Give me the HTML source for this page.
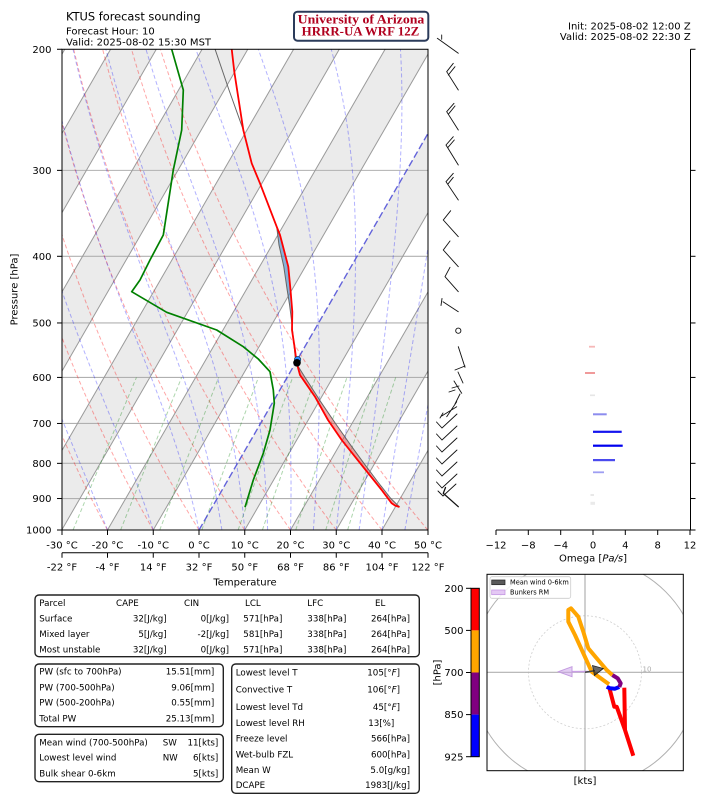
<!DOCTYPE html>
<html><head><meta charset="utf-8">
<style>
html,body{margin:0;padding:0;background:#fff;}
svg{display:block;}
text{font-family:"DejaVu Sans","Liberation Sans",sans-serif;fill:#000;}
.m{font-family:"DejaVu Sans Mono","Liberation Mono",monospace;font-size:8.7px;}
.t10{font-size:10px;}
</style></head><body>
<svg id="s" width="705" height="795" viewBox="0 0 705 795" xmlns="http://www.w3.org/2000/svg">
<defs>
<clipPath id="pc"><rect x="62" y="49.27" width="366" height="480.73"/></clipPath>
<clipPath id="hc"><rect x="487" y="574.3" width="196.3" height="196.4"/></clipPath>
</defs>
<rect width="705" height="795" fill="#fff"/>

<!-- Titles -->
<text x="66" y="20.7" font-size="11.4">KTUS forecast sounding</text>
<text x="66" y="34.7" class="t10">Forecast Hour: 10</text>
<text x="66" y="45.3" class="t10">Valid: 2025-08-02 15:30 MST</text>
<rect x="294" y="11.7" width="134.3" height="29" rx="3.5" fill="#fff" stroke="#2b3b5a" stroke-width="2"/>
<text x="361" y="23.4" text-anchor="middle" font-size="12.5" font-weight="bold" style="font-family:'Liberation Serif','DejaVu Serif',serif;fill:#b0001e" textLength="126.7" lengthAdjust="spacingAndGlyphs">University of Arizona</text>
<text x="360.5" y="35.5" text-anchor="middle" font-size="12.5" font-weight="bold" style="font-family:'Liberation Serif','DejaVu Serif',serif;fill:#b0001e" textLength="117.6" lengthAdjust="spacingAndGlyphs">HRRR-UA WRF 12Z</text>
<text x="690.7" y="29.5" text-anchor="end" class="t10">Init: 2025-08-02 12:00 Z</text>
<text x="690.7" y="40" text-anchor="end" class="t10">Valid: 2025-08-02 22:30 Z</text>

<!-- Skew-T plot -->
<g clip-path="url(#pc)">
  <g fill="#ebebeb">
    <polygon points="-258.5,530 -212.75,530 64.8,49.27 19.1,49.27"/>
    <polygon points="-167,530 -121.25,530 156.3,49.27 110.6,49.27"/>
    <polygon points="-75.5,530 -29.75,530 247.8,49.27 202.1,49.27"/>
    <polygon points="16,530 61.75,530 339.3,49.27 293.6,49.27"/>
    <polygon points="107.5,530 153.25,530 430.8,49.27 385.1,49.27"/>
    <polygon points="199,530 244.75,530 522.3,49.27 476.6,49.27"/>
    <polygon points="290.5,530 336.25,530 613.8,49.27 568.1,49.27"/>
    <polygon points="382,530 427.75,530 705.3,49.27 659.6,49.27"/>
  </g>
  <g stroke="#b0b0b0" stroke-width="1.1">
    <line x1="62" x2="428" y1="170.37" y2="170.37"/>
    <line x1="62" x2="428" y1="256.3" y2="256.3"/>
    <line x1="62" x2="428" y1="322.96" y2="322.96"/>
    <line x1="62" x2="428" y1="377.42" y2="377.42"/>
    <line x1="62" x2="428" y1="423.46" y2="423.46"/>
    <line x1="62" x2="428" y1="463.35" y2="463.35"/>
    <line x1="62" x2="428" y1="498.53" y2="498.53"/>
  </g>
  <g stroke="#9a9a9a" stroke-width="1">
    <line x1="-258.5" y1="530" x2="19.1" y2="49.27"/>
    <line x1="-212.75" y1="530" x2="64.8" y2="49.27"/>
    <line x1="-167" y1="530" x2="110.6" y2="49.27"/>
    <line x1="-121.25" y1="530" x2="156.3" y2="49.27"/>
    <line x1="-75.5" y1="530" x2="202.1" y2="49.27"/>
    <line x1="-29.75" y1="530" x2="247.8" y2="49.27"/>
    <line x1="16" y1="530" x2="293.6" y2="49.27"/>
    <line x1="61.75" y1="530" x2="339.3" y2="49.27"/>
    <line x1="107.5" y1="530" x2="385.1" y2="49.27"/>
    <line x1="153.25" y1="530" x2="430.8" y2="49.27"/>
    <line x1="244.75" y1="530" x2="522.3" y2="49.27"/>
    <line x1="290.5" y1="530" x2="568.1" y2="49.27"/>
    <line x1="336.25" y1="530" x2="613.8" y2="49.27"/>
    <line x1="382" y1="530" x2="659.6" y2="49.27"/>
  </g>
  <g id="adi"></g>
  <line x1="199" y1="530" x2="476.6" y2="49.27" stroke="#4a4ad6" stroke-width="1.4" stroke-dasharray="7,3" opacity="0.85"/>
  <!-- CAPE fill -->
  <polygon fill="rgba(225,60,60,0.45)" points="399.5,507 390.8,498.5 377.5,481.5 364,463.4 349.9,444.1 335.5,423.5 320.4,401.3 305,377.4 295.8,362.6 296.5,362 300,375 315,396.7 328,420 341.7,440 355,456.7 368.3,473.3 381.7,490 391.7,503.3 395,505.5 399.5,507"/>
  <!-- CIN fill -->
  <polygon fill="rgba(70,140,205,0.6)" points="276.7,226.7 279,245 283.8,266.7 287.2,290 289.6,305 291.2,315 292.3,315 292.3,311.7 290.5,290 288.3,266.7 280,235 276.7,226.7"/>
  <!-- parcel -->
  <polyline fill="none" stroke="#666" stroke-width="1" points="399.5,507 390.8,498.5 377.5,481.5 364,463.4 349.9,444.1 335.5,423.5 320.4,401.3 305,377.4 295.8,362.6 293.5,340 291.5,320 289.6,305 287.2,290 283.8,266.7 279,245 276.7,226.7 260,183.3 251.7,163.3 243.3,130 229,90 215,49"/>
  <!-- temperature -->
  <polyline fill="none" stroke="#ff0000" stroke-width="1.8" stroke-linejoin="round" points="231.7,49 234.3,71.7 243.3,130 251.7,163.3 260,183.3 276.7,226.7 280,235 288.3,266.7 290.5,290 292.3,311.7 292,330 295,350 296.5,362 300,375 315,396.7 328,420 341.7,440 355,456.7 368.3,473.3 381.7,490 391.7,503.3 395,505.5 399.5,507"/>
  <!-- dewpoint -->
  <polyline fill="none" stroke="#008000" stroke-width="1.7" stroke-linejoin="round" points="171.7,49.3 183.3,90 181.7,130 173.3,170 163.3,235 150,260 140,280 131.7,291.7 166.7,312.3 216.7,330 243.3,346.7 258.3,359 270,371.7 273.3,390 274.3,403.3 270,430 263.3,453.3 253.3,480 245,507.3"/>
  <circle cx="297.6" cy="359.6" r="3.2" fill="#2a8cff" stroke="#134" stroke-width="0.6"/>
  <circle cx="297" cy="362.8" r="3.8" fill="#000"/>
</g>
<rect x="62" y="49.27" width="366" height="480.73" fill="none" stroke="#000" stroke-width="1"/>

<!-- left ticks/labels -->
<g stroke="#000" stroke-width="1">
  <line x1="57" x2="62" y1="49.27" y2="49.27"/><line x1="57" x2="62" y1="170.37" y2="170.37"/>
  <line x1="57" x2="62" y1="256.3" y2="256.3"/><line x1="57" x2="62" y1="322.96" y2="322.96"/>
  <line x1="57" x2="62" y1="377.42" y2="377.42"/><line x1="57" x2="62" y1="423.46" y2="423.46"/>
  <line x1="57" x2="62" y1="463.35" y2="463.35"/><line x1="57" x2="62" y1="498.53" y2="498.53"/>
  <line x1="57" x2="62" y1="530" y2="530"/>
</g>
<g class="t10" text-anchor="end" font-size="10">
  <text x="51.5" y="52.9">200</text><text x="51.5" y="174">300</text><text x="51.5" y="259.9">400</text>
  <text x="51.5" y="326.6">500</text><text x="51.5" y="381">600</text><text x="51.5" y="427.1">700</text>
  <text x="51.5" y="467">800</text><text x="51.5" y="502.1">900</text><text x="51.5" y="533.6">1000</text>
</g>
<text transform="translate(17.5,289.5) rotate(-90)" text-anchor="middle" font-size="10">Pressure [hPa]</text>

<!-- bottom °C axis -->
<g stroke="#000" stroke-width="1">
  <line x1="62" x2="62" y1="530" y2="535"/><line x1="107.5" x2="107.5" y1="530" y2="535"/>
  <line x1="153.25" x2="153.25" y1="530" y2="535"/><line x1="199" x2="199" y1="530" y2="535"/>
  <line x1="244.75" x2="244.75" y1="530" y2="535"/><line x1="290.5" x2="290.5" y1="530" y2="535"/>
  <line x1="336.25" x2="336.25" y1="530" y2="535"/><line x1="382" x2="382" y1="530" y2="535"/>
  <line x1="428" x2="428" y1="530" y2="535"/>
</g>
<g text-anchor="middle" font-size="10">
  <text x="62" y="548.4">-30 °C</text><text x="107.5" y="548.4">-20 °C</text><text x="153.25" y="548.4">-10 °C</text>
  <text x="199" y="548.4">0 °C</text><text x="244.75" y="548.4">10 °C</text><text x="290.5" y="548.4">20 °C</text>
  <text x="336.25" y="548.4">30 °C</text><text x="382" y="548.4">40 °C</text><text x="428" y="548.4">50 °C</text>
</g>
<!-- °F axis -->
<g stroke="#000" stroke-width="1">
  <line x1="62" x2="428" y1="552.7" y2="552.7"/>
  <line x1="62" x2="62" y1="552.7" y2="557.7"/><line x1="107.5" x2="107.5" y1="552.7" y2="557.7"/>
  <line x1="153.25" x2="153.25" y1="552.7" y2="557.7"/><line x1="199" x2="199" y1="552.7" y2="557.7"/>
  <line x1="244.75" x2="244.75" y1="552.7" y2="557.7"/><line x1="290.5" x2="290.5" y1="552.7" y2="557.7"/>
  <line x1="336.25" x2="336.25" y1="552.7" y2="557.7"/><line x1="382" x2="382" y1="552.7" y2="557.7"/>
  <line x1="428" x2="428" y1="552.7" y2="557.7"/>
</g>
<g text-anchor="middle" font-size="10">
  <text x="62" y="570.6">-22 °F</text><text x="107.5" y="570.6">-4 °F</text><text x="153.25" y="570.6">14 °F</text>
  <text x="199" y="570.6">32 °F</text><text x="244.75" y="570.6">50 °F</text><text x="290.5" y="570.6">68 °F</text>
  <text x="336.25" y="570.6">86 °F</text><text x="382" y="570.6">104 °F</text><text x="428" y="570.6">122 °F</text>
  <text x="245" y="585.6">Temperature</text>
</g>

<!-- Wind barbs -->
<g fill="none" stroke="#111" stroke-width="0.9" stroke-linecap="round">
  <path d="M437.3,38.3 L458.3,53.3 M441.7,35 L441.7,39.3"/>
  <path d="M458.3,90 L446.7,71.7 L453.3,63.3 M448.3,75 L455,66.7"/>
  <path d="M458.3,130 L446.7,111.7 L454,103.3 M448.3,114.3 L455,106"/>
  <path d="M458.3,165 L446,145 L453.3,136.7 M447.7,147.7 L454.3,140"/>
  <path d="M458.3,200 L446,181.7 L453.3,173.3 M447.7,184.3 L453.3,177.3"/>
  <path d="M458.3,236.7 L443.3,220 L450.7,210.7"/>
  <path d="M458.3,266.7 L443.3,250 L450,241"/>
  <path d="M458.3,291.7 L445,276.7 L450,267.3"/>
  <path d="M458.3,311.7 L443,301.7 M442,298.5 L441,305.5"/>
  <circle cx="458.3" cy="330.7" r="2.6"/>
  <path d="M458.3,346.7 L465,367.3 M455,370 L465,366 M458,372 L463,383 M454,381 L461.7,393.3 M452,388 L459,386 M460,394 L455,404 M456.7,401.7 L446.7,416.7 M441.7,416 L456.7,406.7 M443,413 L440,418 M449,392 L455,390"/>
  <path d="M457,414 L442,428 L436.5,422 M457,426 L442,440 L436.5,434 M457,438 L442,452 L436.5,446 M457,450 L442,464 L436.5,458 M457,462 L442,476 L436.5,470 M457,474 L442,488 L436.5,482 M456,484 L443,496 L438,491"/>
  <path d="M458.3,506.7 L443.3,493.3 L445.5,487.5" stroke-width="1.3"/>
</g>

<!-- Omega panel -->
<g stroke="#000" stroke-width="1">
  <line x1="690.5" x2="690.5" y1="49.27" y2="530"/>
  <line x1="690.5" x2="695.5" y1="49.27" y2="49.27"/><line x1="690.5" x2="695.5" y1="170.37" y2="170.37"/>
  <line x1="690.5" x2="695.5" y1="256.3" y2="256.3"/><line x1="690.5" x2="695.5" y1="322.96" y2="322.96"/>
  <line x1="690.5" x2="695.5" y1="377.42" y2="377.42"/><line x1="690.5" x2="695.5" y1="423.46" y2="423.46"/>
  <line x1="690.5" x2="695.5" y1="463.35" y2="463.35"/><line x1="690.5" x2="695.5" y1="498.53" y2="498.53"/>
  <line x1="690.5" x2="695.5" y1="530" y2="530"/>
  <line x1="496" x2="690.5" y1="530" y2="530"/>
  <line x1="496" x2="496" y1="530" y2="535"/><line x1="528.3" x2="528.3" y1="530" y2="535"/>
  <line x1="560.7" x2="560.7" y1="530" y2="535"/><line x1="593" x2="593" y1="530" y2="535"/>
  <line x1="625.3" x2="625.3" y1="530" y2="535"/><line x1="657.7" x2="657.7" y1="530" y2="535"/>
  <line x1="690" x2="690" y1="530" y2="535"/>
</g>
<g text-anchor="middle" font-size="10">
  <text x="496" y="548.4">−12</text><text x="528.3" y="548.4">−8</text><text x="560.7" y="548.4">−4</text>
  <text x="593" y="548.4">0</text><text x="625.3" y="548.4">4</text><text x="657.7" y="548.4">8</text>
  <text x="690" y="548.4">12</text>
  <text x="593" y="561.5">Omega [<tspan font-style="italic">Pa/s</tspan>]</text>
</g>
<g>
  <rect x="589" y="345.8" width="6" height="1.8" fill="#f6b8b8"/>
  <rect x="585" y="372" width="10" height="2" fill="#f09a9a"/>
  <rect x="590" y="394.5" width="5" height="1.6" fill="#e6e6e6"/>
  <rect x="593" y="413.3" width="13.7" height="2" fill="#8c8cee"/>
  <rect x="593" y="430.7" width="28.7" height="2.2" fill="#1414ee"/>
  <rect x="593" y="444.6" width="29.7" height="2.2" fill="#0000ee"/>
  <rect x="593" y="459" width="22" height="2.2" fill="#4a4aee"/>
  <rect x="593" y="471.4" width="11" height="1.8" fill="#9e9ef2"/>
  <rect x="590.5" y="494.2" width="3.5" height="1.6" fill="#e2e2e2"/>
  <rect x="590.5" y="501.8" width="4.5" height="3" fill="#eaeaea"/>
</g>

<!-- Tables -->
<g fill="#fff" stroke="#222" stroke-width="1.4">
  <rect x="35" y="595" width="384.3" height="61.7" rx="4"/>
  <rect x="35" y="664" width="188.3" height="62.7" rx="4"/>
  <rect x="35" y="734.3" width="188.3" height="47.4" rx="4"/>
  <rect x="231.7" y="664" width="187.6" height="129.3" rx="4"/>
</g>
<g class="m">
  <text x="39.3" y="606.2">Parcel</text><text x="116" y="606.2">CAPE</text><text x="184" y="606.2">CIN</text>
  <text x="245" y="606.2">LCL</text><text x="307.3" y="606.2">LFC</text><text x="375" y="606.2">EL</text>

  <text x="39.3" y="621.4">Surface</text><text x="166.7" y="621.4" text-anchor="end">32[J/kg]</text>
  <text x="229" y="621.4" text-anchor="end">0[J/kg]</text><text x="243.3" y="621.4">571[hPa]</text>
  <text x="307.3" y="621.4">338[hPa]</text><text x="410" y="621.4" text-anchor="end">264[hPa]</text>

  <text x="39.3" y="637">Mixed layer</text><text x="166.7" y="637" text-anchor="end">5[J/kg]</text>
  <text x="229" y="637" text-anchor="end">-2[J/kg]</text><text x="243.3" y="637">581[hPa]</text>
  <text x="307.3" y="637">338[hPa]</text><text x="410" y="637" text-anchor="end">264[hPa]</text>

  <text x="39.3" y="652.4">Most unstable</text><text x="166.7" y="652.4" text-anchor="end">32[J/kg]</text>
  <text x="229" y="652.4" text-anchor="end">0[J/kg]</text><text x="243.3" y="652.4">571[hPa]</text>
  <text x="307.3" y="652.4">338[hPa]</text><text x="410" y="652.4" text-anchor="end">264[hPa]</text>

  <text x="39.3" y="674.7">PW (sfc to 700hPa)</text><text x="214.3" y="674.7" text-anchor="end">15.51[mm]</text>
  <text x="39.3" y="690.3">PW (700-500hPa)</text><text x="214.3" y="690.3" text-anchor="end">9.06[mm]</text>
  <text x="39.3" y="705.7">PW (500-200hPa)</text><text x="214.3" y="705.7" text-anchor="end">0.55[mm]</text>
  <text x="39.3" y="721.3">Total PW</text><text x="214.3" y="721.3" text-anchor="end">25.13[mm]</text>

  <text x="39.3" y="745.7">Mean wind (700-500hPa)</text><text x="162.7" y="745.7">SW</text><text x="218.3" y="745.7" text-anchor="end">11[kts]</text>
  <text x="39.3" y="760.7">Lowest level wind</text><text x="162.7" y="760.7">NW</text><text x="218.3" y="760.7" text-anchor="end">6[kts]</text>
  <text x="39.3" y="776.3">Bulk shear 0-6km</text><text x="218.3" y="776.3" text-anchor="end">5[kts]</text>

  <text x="235.7" y="675.7">Lowest level T</text><text x="400" y="675.7" text-anchor="end">105[<tspan font-style="italic">°F</tspan>]</text>
  <text x="235.7" y="692.7">Convective T</text><text x="400" y="692.7" text-anchor="end">106[<tspan font-style="italic">°F</tspan>]</text>
  <text x="235.7" y="710">Lowest level Td</text><text x="400" y="710" text-anchor="end">45[<tspan font-style="italic">°F</tspan>]</text>
  <text x="235.7" y="726">Lowest level RH</text><text x="394.3" y="726" text-anchor="end">13[%]</text>
  <text x="235.7" y="741.7">Freeze level</text><text x="410" y="741.7" text-anchor="end">566[hPa]</text>
  <text x="235.7" y="757.3">Wet-bulb FZL</text><text x="410" y="757.3" text-anchor="end">600[hPa]</text>
  <text x="235.7" y="773">Mean W</text><text x="410" y="773" text-anchor="end">5.0[g/kg]</text>
  <text x="235.7" y="788">DCAPE</text><text x="410" y="788" text-anchor="end">1983[J/kg]</text>
</g>

<!-- Hodograph colorbar -->
<rect x="471" y="588.3" width="8.3" height="42.1" fill="#ff0000"/>
<rect x="471" y="630.4" width="8.3" height="42.1" fill="#ffa500"/>
<rect x="471" y="672.5" width="8.3" height="42.1" fill="#800080"/>
<rect x="471" y="714.6" width="8.3" height="42.1" fill="#0000ff"/>
<rect x="471" y="588.3" width="8.3" height="168.4" fill="none" stroke="#000" stroke-width="1"/>
<g stroke="#000" stroke-width="1">
  <line x1="466" x2="471" y1="588.3" y2="588.3"/><line x1="466" x2="471" y1="630.4" y2="630.4"/>
  <line x1="466" x2="471" y1="672.5" y2="672.5"/><line x1="466" x2="471" y1="714.6" y2="714.6"/>
  <line x1="466" x2="471" y1="756.7" y2="756.7"/>
</g>
<g text-anchor="end" font-size="10">
  <text x="463.5" y="591.9">200</text><text x="463.5" y="634">500</text><text x="463.5" y="676.1">700</text>
  <text x="463.5" y="718.2">850</text><text x="463.5" y="760.3">925</text>
</g>
<text transform="translate(440.5,672.5) rotate(-90)" text-anchor="middle" font-size="10">[hPa]</text>

<!-- Hodograph -->
<rect x="487" y="574.3" width="196.3" height="196.4" fill="#fff"/>
<g clip-path="url(#hc)">
  <circle cx="585" cy="672.3" r="114" fill="none" stroke="#b0b0b0" stroke-width="1"/>
  <circle cx="585" cy="672.3" r="56.5" fill="none" stroke="#cfcfcf" stroke-width="0.8" stroke-dasharray="2,2"/>
  <line x1="487" x2="683.3" y1="672.3" y2="672.3" stroke="#b0b0b0" stroke-width="1.2"/>
  <line x1="585" x2="585" y1="574.3" y2="770.7" stroke="#b0b0b0" stroke-width="1.2"/>
  <text x="642.5" y="671.5" font-size="7" style="fill:#aaa">10</text>
  <g fill="none" stroke-width="4" stroke-linejoin="round">
    <polyline stroke="#ff0000" points="633.3,755.7 625,730 624.3,687.7"/>
    <polyline stroke="#ff0000" points="625,730 616.7,706.7 614.3,706.7 609.3,687.7"/>
    <polyline stroke="#0000ff" points="606.7,686.7 610,688.3 615,688.7 619.3,687"/>
    <polyline stroke="#800080" points="619.3,687 620.7,683.3 617.7,678.3 612.3,675"/>
    <polyline stroke="#ffa500" points="612.3,675 606.7,670 596.7,658.3 588.3,648.3 583.3,631.7 578.3,616.7 571,608.3 568.3,610 568.3,621.7 575,635 591.7,671.7 609,684.3"/>
  </g>
  <line x1="588" y1="671.5" x2="572" y2="671.7" stroke="#c9a0e6" stroke-width="1.6"/>
  <polygon points="558.3,671.7 572,666.7 572,676.7" fill="rgba(205,165,235,0.55)" stroke="#c39be0" stroke-width="1"/>
  <line x1="585" y1="672.3" x2="595" y2="670.6" stroke="#444" stroke-width="1.5"/>
  <polygon points="603.3,668.5 592.5,665.5 594.5,675.5" fill="rgba(40,40,40,0.7)" stroke="#222" stroke-width="0.8"/>
  <rect x="490" y="576.7" width="80.7" height="21.6" rx="2" fill="#fff" fill-opacity="0.85" stroke="#ccc" stroke-width="0.8"/>
  <rect x="491.7" y="580" width="13.3" height="4.7" fill="#5a5a5a" stroke="#222" stroke-width="0.7"/>
  <text x="510" y="584.6" font-size="6.6">Mean wind 0-6km</text>
  <rect x="491.7" y="590" width="13.3" height="4.7" fill="#e4c8f4" stroke="#c090e0" stroke-width="0.7"/>
  <text x="510" y="594.6" font-size="6.6">Bunkers RM</text>
</g>
<rect x="487" y="574.3" width="196.3" height="196.4" fill="none" stroke="#000" stroke-width="1"/>
<text x="585" y="783.8" text-anchor="middle" font-size="10">[kts]</text>
</svg>
<script>
(function(){
var NS='http://www.w3.org/2000/svg';
function Y(p){return 530-298.7*Math.log(1000/p);}
function X(T,p){return 199+4.575*T+172.47*Math.log(1000/p);}
var g=document.getElementById('adi');
function pl(pts,color){var d='';for(var i=0;i<pts.length;i++){d+=(i?'L':'M')+pts[i][0].toFixed(2)+','+pts[i][1].toFixed(2);}
var e=document.createElementNS(NS,'path');e.setAttribute('d',d);e.setAttribute('fill','none');e.setAttribute('stroke',color);e.setAttribute('stroke-width','1');e.setAttribute('stroke-dasharray','4,2.5');g.appendChild(e);}
var t0,p,pts,T;
for(t0=-30;t0<=50;t0+=10){pts=[];for(p=1000;p>=195;p-=10){T=(t0+273.15)*Math.pow(p/1000,0.2857)-273.15;pts.push([X(T,p),Y(p)]);}pl(pts,'rgba(255,0,0,0.35)');}
function es(Tk){var t=Tk-273.15;return 6.112*Math.exp(17.67*t/(t+243.5));}
function f(p,Tk){var e=es(Tk);var rs=0.622*e/(p-e);return (287.04*Tk+2.501e6*rs)/(p*(1005.7+2.501e6*2.501e6*rs*0.622/(287.04*Tk*Tk)));}
var mt=[-40,-30,-20,-10,0,5,10,15,20,25,30,35,40,45];
for(var i=0;i<mt.length;i++){t0=mt[i];var Tk=t0+273.15;p=1000;var h=-5;pts=[[X(t0,1000),530]];
while(p>200){var k1=f(p,Tk),k2=f(p+h/2,Tk+h/2*k1),k3=f(p+h/2,Tk+h/2*k2),k4=f(p+h,Tk+h*k3);Tk+=h/6*(k1+2*k2+2*k3+k4);p+=h;pts.push([X(Tk-273.15,p),Y(p)]);}
pl(pts,'rgba(0,0,255,0.3)');}
var ws=[0.0004,0.001,0.002,0.004,0.007,0.01,0.016,0.024,0.032];
for(var j=0;j<ws.length;j++){var w=ws[j];pts=[];for(p=1000;p>=600;p-=10){var e=p*w/(0.622+w);var l=Math.log(e/6.112);var Td=243.5*l/(17.67-l);pts.push([X(Td,p),Y(p)]);}pl(pts,'rgba(0,128,0,0.32)');}
})();
</script>
</body></html>
